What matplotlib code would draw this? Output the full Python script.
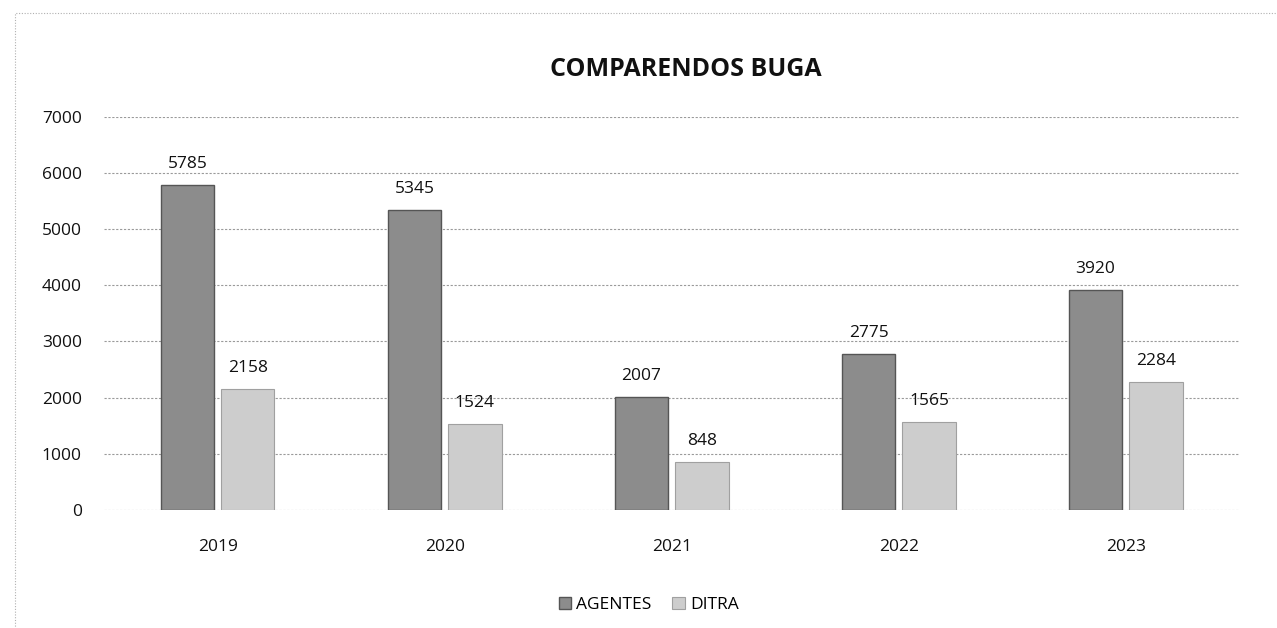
import numpy as np
import matplotlib
matplotlib.use("Agg")
import matplotlib.pyplot as plt
from matplotlib.patches import Rectangle

# comparendos por año y por origen
years = ["2019", "2020", "2021", "2022", "2023"]
agentes = [5785, 5345, 2007, 2775, 3920]
ditra = [2158, 1524, 848, 1565, 2284]
y_ticks = [0, 1000, 2000, 3000, 4000, 5000, 6000, 7000]

plt.rcParams['font.family'] = ['Open Sans', 'DejaVu Sans']

fig = plt.figure(figsize=(12.77, 6.28), dpi=100)
ax = fig.add_axes([0.0815, 0.188, 0.889, 0.626])

x = np.arange(len(years))
w = 0.235
off = 0.133
b1 = ax.bar(x - off, agentes, w, color="#8c8c8c", edgecolor="#555555", linewidth=1.0,
            label="AGENTES", zorder=3)
b2 = ax.bar(x + off, ditra, w, color="#cdcdcd", edgecolor="#a0a0a0", linewidth=0.8,
            label="DITRA", zorder=3)

for bars, vals in ((b1, agentes), (b2, ditra)):
    for r, v in zip(bars, vals):
        ax.text(r.get_x() + r.get_width() / 2, v + 230, str(v), ha="center", va="bottom",
                fontsize=12.5, color="#111111")

ax.set_xlim(-0.5, len(years) - 0.5)
ax.set_ylim(0, 7000)
ax.set_yticks(y_ticks)
ax.set_xticks(x)
ax.set_xticklabels(years)
ax.tick_params(axis="y", length=0, pad=16, labelsize=12.5, labelcolor="#111111")
ax.tick_params(axis="x", length=0, pad=21, labelsize=12.5, labelcolor="#111111")
ax.grid(axis="y", color="#9a9a9a", linestyle=(0, (2, 1.5)), linewidth=0.8, zorder=0)
for s in ax.spines.values():
    s.set_visible(False)

fig.text(0.537, 0.89, "COMPARENDOS BUGA", ha="center", va="center", fontsize=18,
         fontweight="bold", color="#111111")

fig.legend(handles=[b1, b2], loc="center", bbox_to_anchor=(0.508, 0.036), ncol=2,
           frameon=False, fontsize=12.5, handlelength=0.7, handleheight=0.7,
           handletextpad=0.3, columnspacing=1.2)

# marco del gráfico
fig.patches.append(Rectangle((0.012, -0.01), 0.99, 0.99, transform=fig.transFigure,
                             fill=False, edgecolor="#b0b0b0", linewidth=0.8,
                             linestyle=(0, (1, 1.5))))

fig.savefig("out.png", dpi=100)
